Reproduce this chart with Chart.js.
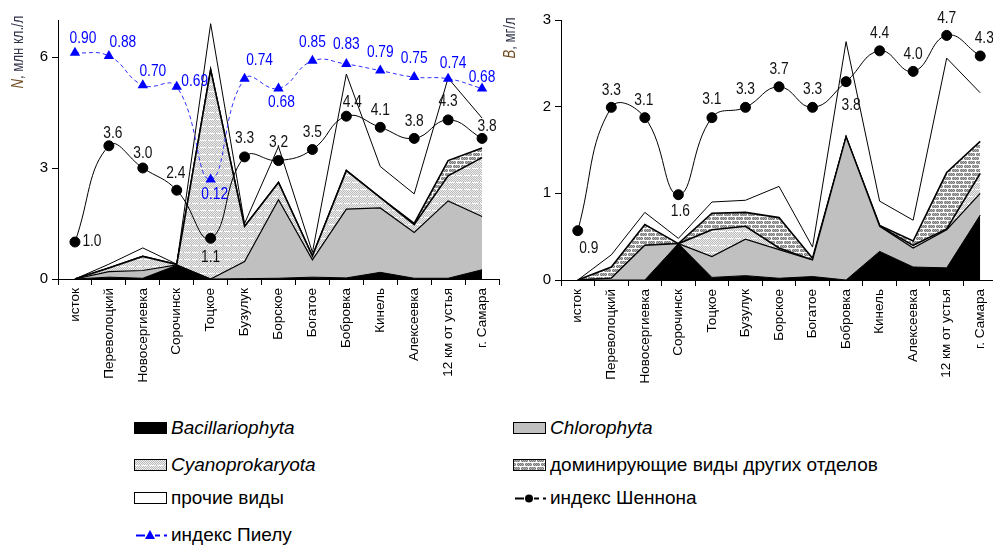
<!DOCTYPE html>
<html>
<head>
<meta charset="utf-8">
<script src="https://cdn.jsdelivr.net/npm/chart.js@4.4.1/dist/chart.umd.min.js"></script>
<style>
  html, body { margin: 0; padding: 0; width: 993px; height: 547px; overflow: hidden; background: #fff; }
  #wrap { position: relative; width: 993px; height: 547px; overflow: hidden; }
  canvas.chart { position: absolute; top: 0; }
  #chartN { left: 0; }
  #chartB { left: 503px; }
  .leg { position: absolute; height: 20px; display: flex; align-items: center;
         font: 19px "Liberation Sans", Arial, sans-serif; color: #000; white-space: nowrap; }
  .leg canvas { margin-right: 3px; }
  .leg i { font-style: italic; }
</style>
</head>
<body>
<div id="wrap">
  <canvas id="chartN" class="chart" width="505" height="400"></canvas>
  <canvas id="chartB" class="chart" width="500" height="400"></canvas>

  <div class="leg" style="left:133px;top:418px"><canvas id="lgBac" width="35" height="14"></canvas><i>Bacillariophyta</i></div>
  <div class="leg" style="left:512px;top:418px"><canvas id="lgChl" width="35" height="14"></canvas><i>Chlorophyta</i></div>
  <div class="leg" style="left:133px;top:455px"><canvas id="lgCy" width="35" height="14"></canvas><i>Cyanoprokaryota</i></div>
  <div class="leg" style="left:512px;top:455px"><canvas id="lgDom" width="35" height="14"></canvas>доминирующие виды других отделов</div>
  <div class="leg" style="left:133px;top:488px"><canvas id="lgOth" width="35" height="14"></canvas>прочие виды</div>
  <div class="leg" style="left:512px;top:488px"><canvas id="lgSh" width="35" height="14"></canvas>индекс Шеннона</div>
  <div class="leg" style="left:133px;top:525px"><canvas id="lgPi" width="35" height="14"></canvas>индекс Пиелу</div>
</div>

<script>
// stations along the river
const stations = ['исток', 'Переволоцкий', 'Новосергиевка', 'Сорочинск', 'Тоцкое', 'Бузулук',
  'Борское', 'Богатое', 'Бобровка', 'Кинель', 'Алексеевка', '12 км от устья', 'г. Самара'];

// N, млн кл./л
const nBac    = [0, 0.05, 0.02, 0.37, 0,    0.01, 0.02, 0.05, 0.03, 0.18, 0.02, 0.02, 0.25];
const nChl    = [0, 0.15, 0.21, 0.01, 0,    0.46, 2.12, 0.47, 1.86, 1.74, 1.24, 2.09, 1.44];
const nCyano  = [0, 0.10, 0.38, 0.01, 5.65, 0.95, 0.47, 0.10, 1.04, 0.28, 0.21, 0.68, 1.59];
const nDom    = [0, 0,    0,    0,    0,    0,    0,    0,    0,    0,    0.03, 0.41, 0.26];
const nOther  = [0, 0.10, 0.23, 0.01, 1.25, 0.08, 0.97, 0.10, 2.61, 0.84, 0.80, 2.23, 0.81];
const nShannon = [1.0, 3.6, 3.0, 2.4, 1.1, 3.3, 3.2, 3.5, 4.4, 4.1, 3.8, 4.3, 3.8];
const nPielou  = [0.90, 0.88, 0.70, 0.69, 0.12, 0.74, 0.68, 0.85, 0.83, 0.79, 0.75, 0.74, 0.68];
const nTicks = [0, 3, 6];

// B, мг/л
const bBac    = [0, 0,    0,    0.42, 0.03, 0.05, 0.02, 0.04, 0,    0.33, 0.15, 0.14, 0.75];
const bChl    = [0, 0.02, 0.40, 0,    0.24, 0.42, 0.33, 0.19, 1.65, 0.29, 0.22, 0.44, 0.25];
const bCyano  = [0, 0,    0,    0,    0.31, 0.15, 0.02, 0,    0,    0,    0.03, 0.01, 0.23];
const bDom    = [0, 0.13, 0.24, 0,    0.19, 0.16, 0.35, 0.02, 0,    0.01, 0.05, 0.65, 0.37];
const bOther  = [0, 0.14, 0.14, 0.06, 0.13, 0.14, 0.36, 0.13, 1.10, 0.28, 0.24, 1.32, 0.56];
const bShannon = [0.9, 3.3, 3.1, 1.6, 3.1, 3.3, 3.7, 3.3, 3.8, 4.4, 4.0, 4.7, 4.3];
const bTicks = [0, 1, 2, 3];

// where the value labels sit relative to their points
const nShannonOff = [[17,0],[4,-12],[0,-14],[-1,-17],[0,19],[0,-18],[0,-18],[0,-17],[6,-14],[0,-17],[0,-17],[0,-18],[5,-12]];
const nPielouOff  = [[8,-14],[14,-13],[10,-14],[18,-5],[4,15],[15,-18],[3,14],[0,-18],[0,-19],[0,-18],[0,-19],[5,-15],[0,-11]];
const bShannonOff = [[11,18],[0,-17],[-1,-17],[2,17],[0,-18],[0,-18],[0,-17],[0,-18],[5,24],[0,-17],[0,-17],[0,-17],[4,-17]];

const FONT = '"Liberation Sans", Arial, sans-serif';

// fill patterns
function makePattern(kind) {
    const c = document.createElement('canvas');
    const g = c.getContext('2d');
    if (kind === 'cyano') {
        c.width = 8; c.height = 7;
        for (let y = 0; y < 7; y++) {
            for (let x = 0; x < 8; x++) {
                g.fillStyle = (x + y) % 2 ? '#bcbcbc' : '#ededed';
                g.fillRect(x, y, 1, 1);
            }
        }
        g.fillStyle = '#ffffff';
        g.fillRect(0, 0, 6, 1);
    } else {
        c.width = 8; c.height = 8;
        for (let y = 0; y < 8; y++) {
            for (let x = 0; x < 8; x++) {
                g.fillStyle = (x + y) % 2 ? '#7a7a7a' : '#b4b4b4';
                g.fillRect(x, y, 1, 1);
            }
        }
        g.fillStyle = '#ffffff';
        g.fillRect(0, 0, 8, 1);
        g.fillRect(0, 4, 8, 1);
        g.fillRect(0, 1, 1, 3);
        g.fillRect(4, 5, 1, 3);
    }
    return g.createPattern(c, 'repeat');
}
const cyanoFill = makePattern('cyano');
const domFill = makePattern('dom');

function area(label, data, fill, bg, width) {
    return {
        label, data, yAxisID: 'y', fill,
        backgroundColor: bg, borderColor: '#000', borderWidth: width,
        pointRadius: 0, pointHoverRadius: 0, tension: 0
    };
}

function areaSets(bac, chl, cy, dom, oth) {
    return [
        area('Bacillariophyta', bac, 'origin', '#000000', 1),
        area('Chlorophyta', chl, '-1', '#c0c0c0', 1.2),
        area('Cyanoprokaryota', cy, '-1', cyanoFill, 1.6),
        area('доминирующие виды других отделов', dom, '-1', domFill, 1.6),
        area('прочие виды', oth, '-1', '#ffffff', 1)
    ];
}

const valueLabels = {
    id: 'valueLabels',
    afterDatasetsDraw(chart) {
        const ctx = chart.ctx;
        chart.data.datasets.forEach((ds, i) => {
            if (!ds.labelOffsets) return;
            const meta = chart.getDatasetMeta(i);
            ctx.save();
            ctx.font = '16px ' + FONT;
            ctx.fillStyle = ds.labelColor;
            ctx.textAlign = 'center';
            ctx.textBaseline = 'middle';
            meta.data.forEach((pt, j) => {
                const [dx, dy] = ds.labelOffsets[j];
                ctx.save();
                ctx.translate(pt.x + dx, pt.y + dy);
                ctx.scale(0.86, 1);
                ctx.fillText(ds.data[j].toFixed(ds.labelDigits), 0, 0);
                ctx.restore();
            });
            ctx.restore();
        });
    }
};

const axisTitle = {
    id: 'axisTitle',
    afterDraw(chart, args, opts) {
        const ctx = chart.ctx;
        ctx.save();
        ctx.translate(opts.x, opts.y);
        ctx.rotate(-Math.PI / 2);
        ctx.scale(0.82, 1);
        ctx.textBaseline = 'middle';
        ctx.font = 'italic 16px ' + FONT;
        const w1 = ctx.measureText(opts.sym).width;
        ctx.font = '16px ' + FONT;
        const w2 = ctx.measureText(opts.rest).width;
        const x0 = -(w1 + w2) / 2;
        ctx.font = 'italic 16px ' + FONT;
        ctx.fillStyle = '#6e4b1f';
        ctx.fillText(opts.sym, x0, 0);
        ctx.font = '16px ' + FONT;
        ctx.fillStyle = '#2f3247';
        ctx.fillText(opts.rest, x0 + w1, 0);
        ctx.restore();
    }
};

function baseScales(yMax, ticks, xHeight) {
    return {
        x: {
            offset: true,
            grid: { offset: true, drawOnChartArea: false, tickLength: 6, color: '#000' },
            border: { color: '#000', width: 1 },
            ticks: { minRotation: 90, maxRotation: 90, autoSkip: false, color: '#000',
                     padding: 3, font: { size: 13.5, family: FONT } },
            afterFit(s) { s.height = xHeight; }
        },
        y: {
            stacked: true, min: 0, max: yMax,
            afterBuildTicks(s) { s.ticks = ticks.map(v => ({ value: v })); },
            grid: { drawOnChartArea: false, tickLength: 6, color: '#000' },
            border: { color: '#000', width: 1 },
            ticks: { color: '#000', padding: 4, font: { size: 15, family: FONT } },
            afterFit(s) { s.width = 58; }
        }
    };
}

// ---- N chart ----
const scalesN = baseScales(7, nTicks, 121);
scalesN.yS = { display: false, min: 0, max: 7 };
scalesN.yP = { display: false, min: -0.491, max: 1.101 };

new Chart(document.getElementById('chartN'), {
    type: 'line',
    data: {
        labels: stations,
        datasets: [
            ...areaSets(nBac, nChl, nCyano, nDom, nOther),
            {
                label: 'индекс Шеннона', data: nShannon, yAxisID: 'yS', order: -1, fill: false,
                borderColor: '#000', borderWidth: 1, tension: 0.45,
                pointRadius: 5, pointBackgroundColor: '#000', pointBorderColor: '#000',
                labelOffsets: nShannonOff, labelColor: '#111', labelDigits: 1
            },
            {
                label: 'индекс Пиелу', data: nPielou, yAxisID: 'yP', order: -1, fill: false,
                borderColor: '#3030ff', borderWidth: 1, borderDash: [4, 3], tension: 0.45,
                pointStyle: 'triangle', pointRadius: 6,
                pointBackgroundColor: '#0000ff', pointBorderColor: '#0000ff', pointBorderWidth: 0,
                labelOffsets: nPielouOff, labelColor: '#0000ff', labelDigits: 2
            }
        ]
    },
    options: {
        responsive: false, animation: false,
        layout: { padding: { top: 20, right: 5, left: 0, bottom: 0 } },
        scales: scalesN,
        plugins: {
            legend: { display: false }, tooltip: { enabled: false },
            axisTitle: { x: 19, y: 52, sym: 'N', rest: ', млн кл./л' }
        }
    },
    plugins: [valueLabels, axisTitle]
});

// ---- B chart ----
const scalesB = baseScales(3, bTicks, 120);
scalesB.yS = { display: false, min: -0.06, max: 5.0 };

new Chart(document.getElementById('chartB'), {
    type: 'line',
    data: {
        labels: stations,
        datasets: [
            ...areaSets(bBac, bChl, bCyano, bDom, bOther),
            {
                label: 'индекс Шеннона', data: bShannon, yAxisID: 'yS', order: -1, fill: false,
                borderColor: '#000', borderWidth: 1, tension: 0.45,
                pointRadius: 5, pointBackgroundColor: '#000', pointBorderColor: '#000',
                labelOffsets: bShannonOff, labelColor: '#111', labelDigits: 1
            }
        ]
    },
    options: {
        responsive: false, animation: false,
        layout: { padding: { top: 20, right: 0, left: 0, bottom: 0 } },
        scales: scalesB,
        plugins: {
            legend: { display: false }, tooltip: { enabled: false },
            axisTitle: { x: 8, y: 38, sym: 'B', rest: ', мг/л' }
        }
    },
    plugins: [valueLabels, axisTitle]
});

// ---- legend swatches ----
function swatch(id, fill) {
    const g = document.getElementById(id).getContext('2d');
    g.fillStyle = fill;
    g.fillRect(1.5, 1.5, 32, 11);
    g.strokeStyle = '#000';
    g.lineWidth = 1;
    g.strokeRect(1.5, 1.5, 32, 11);
}
swatch('lgBac', '#000');
swatch('lgChl', '#c0c0c0');
swatch('lgCy', cyanoFill);
swatch('lgDom', domFill);
swatch('lgOth', '#fff');

function lineSwatch(id, color, marker) {
    const g = document.getElementById(id).getContext('2d');
    g.strokeStyle = color;
    g.fillStyle = color;
    g.lineWidth = 2;
    g.beginPath();
    g.moveTo(3, 7.5); g.lineTo(12, 7.5);
    g.moveTo(22, 7.5); g.lineTo(27, 7.5);
    g.moveTo(31, 7.5); g.lineTo(34, 7.5);
    g.stroke();
    g.beginPath();
    if (marker === 'circle') {
        g.arc(17, 7.5, 4, 0, Math.PI * 2);
    } else {
        g.moveTo(17, 2); g.lineTo(22, 11); g.lineTo(12, 11); g.closePath();
    }
    g.fill();
}
lineSwatch('lgSh', '#000', 'circle');
lineSwatch('lgPi', '#0000ff', 'triangle');
</script>
</body>
</html>
